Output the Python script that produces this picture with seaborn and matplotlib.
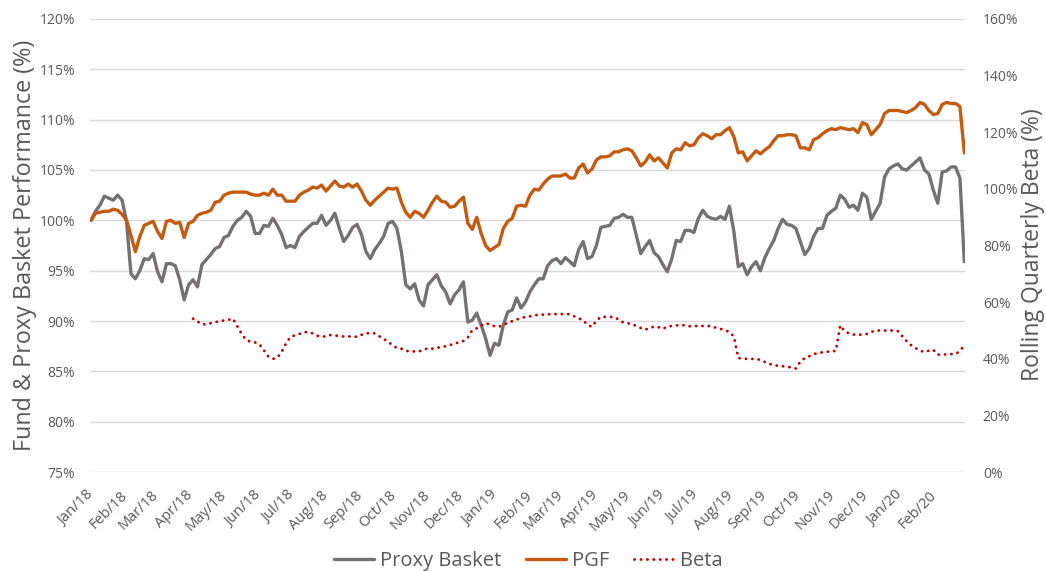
import pandas as pd
import matplotlib
matplotlib.use("Agg")
import matplotlib.pyplot as plt
import matplotlib.dates as mdates
import seaborn as sns

# sampled every 4 days from 1 Jan 2018 to 28 Feb 2020
dates = pd.date_range("2018-01-01", periods=198, freq="4D")

proxy = [100.0, 100.9, 101.5, 102.4, 102.2, 102.0, 102.5, 102.0, 99.9, 94.7, 94.2, 95.0, 96.2, 96.1, 96.7, 94.9,
         93.9, 95.7, 95.7, 95.5, 94.1, 92.1, 93.6, 94.1, 93.4, 95.6, 96.1, 96.6, 97.2, 97.4, 98.3, 98.5, 99.4,
         100.0, 100.3, 100.9, 100.4, 98.7, 98.7, 99.5, 99.4, 100.2, 99.5, 98.6, 97.3, 97.5, 97.3, 98.4, 98.9,
         99.3, 99.7, 99.7, 100.5, 99.5, 100.0, 100.7, 99.2, 97.9, 98.5, 99.3, 99.6, 98.6, 96.9, 96.2, 97.1, 97.7,
         98.4, 99.7, 99.9, 99.2, 96.9, 93.6, 93.2, 93.7, 92.1, 91.5, 93.6, 94.1, 94.6, 93.5, 92.9, 91.7,
         92.6, 93.1, 93.9, 89.9, 90.1, 90.8, 89.6, 88.3, 86.6, 87.8, 87.6, 89.6, 90.9, 91.1, 92.3, 91.3, 91.9,
         92.9, 93.6, 94.2, 94.2, 95.5, 96.0, 96.2, 95.7, 96.3, 95.9, 95.5, 97.1, 97.9, 96.2, 96.4, 97.5,
         99.3, 99.4, 99.5, 100.2, 100.3, 100.6, 100.3, 100.3, 98.5, 96.7, 97.4, 98.0, 96.8, 96.4, 95.6, 94.9, 96.2,
         98.0, 97.9, 99.0, 99.0, 98.8, 100.2, 101.0, 100.4, 100.2, 100.1, 100.4, 100.1, 101.4, 98.9, 95.4, 95.7,
         94.6, 95.4, 95.9, 95.0, 96.3, 97.2, 98.0, 99.2, 100.1, 99.6, 99.5, 99.2, 97.9, 96.6, 97.2, 98.4, 99.2,
         99.2, 100.5, 100.9, 101.2, 102.5, 102.1, 101.3, 101.5, 101.0, 102.7, 102.3, 100.1, 100.9, 101.7, 104.3,
         105.1, 105.4, 105.6, 105.1, 105.0, 105.4, 105.8, 106.2, 105.0, 104.6, 103.0, 101.7, 104.8, 104.9, 105.3,
         105.3, 104.2, 95.9]

pgf = [100.0, 100.7, 100.8, 100.9, 100.9, 101.1, 101.0, 100.6, 100.0, 98.5, 96.9, 98.4, 99.5, 99.7, 99.9, 98.9,
       98.2, 99.9, 100.0, 99.7, 99.8, 98.3, 99.7, 99.9, 100.5, 100.7, 100.8, 101.0, 101.8, 101.9, 102.5, 102.7, 102.8,
       102.8, 102.8, 102.8, 102.6, 102.5, 102.5, 102.7, 102.5, 103.1, 102.5, 102.5, 101.9, 101.9, 101.9, 102.5, 102.8,
       103.0, 103.3, 103.2, 103.5, 102.9, 103.4, 103.9, 103.4, 103.3, 103.6, 103.3, 103.6, 102.9, 102.0, 101.5, 102.0, 102.4,
       102.8, 103.2, 103.1, 103.2, 101.8, 100.8, 100.3, 100.9, 100.7, 100.3, 101.0, 101.8, 102.4, 101.9, 101.8, 101.3,
       101.4, 101.9, 102.3, 99.7, 99.1, 100.3, 98.7, 97.5, 97.0, 97.3, 97.6, 99.2, 99.9, 100.2, 101.4, 101.5, 101.4,
       102.5, 103.1, 103.0, 103.6, 104.1, 104.4, 104.4, 104.4, 104.6, 104.2, 104.2, 105.2, 105.6, 104.7, 105.1, 106.0,
       106.3, 106.3, 106.4, 106.8, 106.8, 107.0, 107.1, 106.9, 106.2, 105.4, 105.8, 106.5, 105.9, 106.2, 105.7, 105.2, 106.7,
       107.1, 107.0, 107.7, 107.4, 107.5, 108.2, 108.6, 108.4, 108.1, 108.5, 108.5, 108.9, 109.2, 108.3, 106.7, 106.8,
       105.9, 106.4, 106.9, 106.6, 107.0, 107.3, 107.9, 108.4, 108.4, 108.5, 108.5, 108.4, 107.2, 107.2, 107.0, 108.0, 108.2,
       108.6, 108.9, 109.1, 109.0, 109.2, 109.1, 109.0, 109.1, 108.7, 109.7, 109.5, 108.5, 109.0, 109.5, 110.6,
       110.9, 110.9, 110.9, 110.8, 110.7, 110.9, 111.2, 111.7, 111.5, 110.9, 110.5, 110.6, 111.5, 111.7, 111.6,
       111.6, 111.3, 106.7]

# rolling beta only starts after the first quarter
beta = [None] * 23 + [
    54.2, 53.2, 52.2, 52.2, 52.6, 53.0, 53.2, 53.6, 53.8, 54.2,
    51.5, 48.7, 46.7, 46.0, 45.8, 45.1, 43.0, 40.8, 40.0, 40.4, 42.5, 45.5, 47.8, 48.3, 48.8, 49.4, 49.5,
    49.0, 48.2, 47.8, 48.0, 48.4, 48.3, 48.0, 47.9, 47.9, 47.9, 47.8, 48.5, 49.1, 49.0, 49.0, 48.0, 47.0,
    46.1, 44.8, 43.8, 43.6, 42.8, 42.7, 42.6, 42.7, 43.1, 43.8, 43.6, 43.8, 44.3, 44.4, 44.9, 45.3, 45.9,
    46.3, 47.5, 50.2, 50.8, 51.7, 52.6, 52.2, 51.5, 51.4, 51.8, 52.8, 53.3, 53.9, 54.4, 54.8, 55.0, 55.3,
    55.6, 55.6, 55.7, 55.8, 55.8, 55.8, 55.8, 55.8, 55.0, 54.3, 53.6, 52.0, 51.3, 53.5, 54.8, 54.8, 54.8,
    54.8, 53.9, 52.9, 52.6, 52.3, 51.6, 50.9, 50.3, 50.9, 51.4, 51.2, 50.6, 51.4, 51.6, 51.8, 52.0, 51.8,
    51.5, 51.6, 51.6, 51.6, 51.7, 51.4, 51.0, 50.6, 50.1, 49.5, 47.9, 40.3, 40.1, 40.0, 40.0, 40.0, 39.6,
    38.9, 38.2, 37.9, 37.5, 37.4, 37.2, 37.0, 36.6, 39.0, 40.3, 40.9, 41.6, 42.2, 42.3, 42.5, 42.7, 42.8,
    51.8, 49.7, 49.0, 48.6, 48.5, 48.6, 48.8, 49.5, 50.0, 50.0, 50.0, 50.0, 50.0, 49.8, 48.0, 46.2, 44.8,
    43.8, 42.9, 42.4, 42.9, 43.2, 41.5, 41.5, 41.6, 41.7, 41.7, 42.8, 44.8]

left_ticks = [75, 80, 85, 90, 95, 100, 105, 110, 115, 120]
right_ticks = [0, 20, 40, 60, 80, 100, 120, 140, 160]

df = pd.DataFrame({"date": dates, "Proxy Basket": proxy, "PGF": pgf, "Beta": beta})
df["Beta"] = df["Beta"].astype(float)

sns.set_theme(style="white")
plt.rcParams["font.family"] = ["Open Sans", "DejaVu Sans"]
txt = "#595959"

fig = plt.figure(figsize=(10.46, 5.71), dpi=100)
ax = fig.add_axes([0.086, 0.173, 0.837, 0.794])
ax2 = ax.twinx()

sns.lineplot(data=df, x="date", y="Proxy Basket", ax=ax, color="#767171", linewidth=2.4, label="Proxy Basket")
sns.lineplot(data=df, x="date", y="PGF", ax=ax, color="#C55A11", linewidth=2.4, label="PGF")
sns.lineplot(data=df.dropna(), x="date", y="Beta", ax=ax2, color="#C00000", linewidth=2.0,
             linestyle=(0, (0.1, 2.2)), dash_capstyle="round", label="Beta")

for a in (ax, ax2):
    if a.get_legend() is not None:
        a.get_legend().remove()
    for s in a.spines.values():
        s.set_visible(False)
    a.set_xlabel("")
    a.set_ylabel("")

ax.set_ylim(75, 120)
ax.set_yticks(left_ticks)
ax.set_yticklabels([f"{t}%" for t in left_ticks])
ax2.set_ylim(0, 160)
ax2.set_yticks(right_ticks)
ax2.set_yticklabels([f"{t}%" for t in right_ticks])
ax.grid(axis="y", color="#d9d9d9", linewidth=1)
ax.grid(axis="x", visible=False)
ax2.grid(False)

ax.set_xlim(pd.Timestamp("2017-12-31"), pd.Timestamp("2020-02-29"))
ax.xaxis.set_major_locator(mdates.MonthLocator())
ax.xaxis.set_major_formatter(mdates.DateFormatter("%b/%y"))
ax.tick_params(axis="x", length=0, pad=15, labelsize=10.5, labelcolor=txt)
ax.tick_params(axis="y", length=0, pad=10.5, labelsize=10, labelcolor=txt)
ax2.tick_params(axis="y", length=0, pad=12.5, labelsize=10, labelcolor=txt)
for lab in ax.get_xticklabels():
    lab.set_rotation(45)
    lab.set_ha("right")
    lab.set_va("center")
    lab.set_rotation_mode("anchor")

fig.text(0.024, 0.571, "Fund & Proxy Basket Performance (%)", rotation=90, ha="center", va="center",
         fontsize=16.8, color=txt)
fig.text(0.988, 0.571, "Rolling Quarterly Beta (%)", rotation=90, ha="center", va="center",
         fontsize=16.5, color=txt)

h1, l1 = ax.get_legend_handles_labels()
h2, l2 = ax2.get_legend_handles_labels()
fig.legend(h1 + h2, l1 + l2, loc="center", bbox_to_anchor=(0.505, 0.017), ncol=3, frameon=False,
           fontsize=14.5, handlelength=2.0, handletextpad=0.3, columnspacing=1.2, labelcolor=txt)

fig.savefig("out.png", dpi=100)
